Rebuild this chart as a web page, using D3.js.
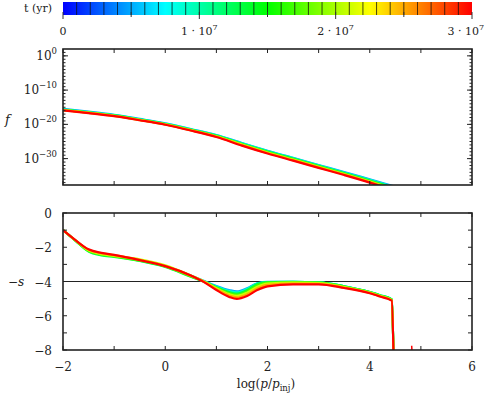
<!DOCTYPE html>
<html>
<head>
<meta charset="utf-8">
<script src="https://cdn.jsdelivr.net/npm/d3@7"></script>
<style>
  body { margin: 0; background: #fff; }
  svg text { fill: #222; }
</style>
</head>
<body>
<svg id="chart" width="490" height="397"></svg>
<script>
// snapshots (yr)
var times = [5e6, 9e6, 13e6, 17e6, 21e6, 25e6, 3e7];

// top panel : log10 f on a common grid of log(p/pinj)
var xTop = [-2, -1.5, -1, -0.5, 0, 0.5, 1, 1.5, 2, 2.5, 3, 3.5, 4, 4.5];
var logF_5e6  = [-15.5, -16.3, -17.2, -18.4, -19.7, -21.35, -23.1, -25.45, -27.7, -29.75, -31.85, -33.9, -36.05, -38.2];
var logF_9e6  = [-15.6, -16.4, -17.3, -18.5, -19.8, -21.45, -23.2, -25.55, -27.8, -29.85, -31.95, -34.05, -36.2, -38.4];
var logF_13e6 = [-15.7, -16.5, -17.4, -18.6, -19.9, -21.55, -23.3, -25.7, -27.95, -30.0, -32.1, -34.2, -36.4, -38.6];
var logF_17e6 = [-15.75, -16.55, -17.45, -18.65, -19.95, -21.6, -23.4, -25.8, -28.05, -30.15, -32.25, -34.35, -36.55, -38.8];
var logF_21e6 = [-15.8, -16.6, -17.5, -18.7, -20.0, -21.7, -23.5, -25.9, -28.2, -30.3, -32.4, -34.5, -36.7, -39.0];
var logF_25e6 = [-15.85, -16.65, -17.55, -18.75, -20.05, -21.75, -23.6, -26.05, -28.35, -30.45, -32.55, -34.65, -36.85, -39.2];
var logF_30e6 = [-15.9, -16.7, -17.6, -18.8, -20.1, -21.8, -23.7, -26.2, -28.5, -30.6, -32.7, -34.8, -37.0, -39.4];

// bottom panel : -s
var xBot = [-2, -1.75, -1.5, -1.25, -1, -0.5, 0, 0.5, 0.75, 1, 1.25, 1.4, 1.6, 1.8, 2, 2.5, 3, 3.5, 4, 4.2, 4.43, 4.47];
var negS_5e6  = [-1.0, -1.62, -2.2, -2.4, -2.5, -2.76, -3.1, -3.65, -3.96, -4.26, -4.5, -4.58, -4.4, -4.1, -4.02, -4.02, -4.05, -4.28, -4.62, -4.8, -5.05, -9];
var negS_9e6  = [-1.0, -1.63, -2.22, -2.43, -2.52, -2.78, -3.12, -3.68, -3.98, -4.3, -4.56, -4.64, -4.44, -4.12, -4.03, -4.02, -4.05, -4.28, -4.62, -4.8, -5.05, -9];
var negS_13e6 = [-1.0, -1.64, -2.25, -2.47, -2.56, -2.8, -3.15, -3.72, -4.0, -4.33, -4.62, -4.7, -4.5, -4.15, -4.04, -4.02, -4.05, -4.28, -4.62, -4.8, -5.05, -9];
var negS_17e6 = [-1.0, -1.63, -2.22, -2.43, -2.53, -2.78, -3.12, -3.7, -3.99, -4.36, -4.68, -4.77, -4.57, -4.22, -4.07, -4.04, -4.06, -4.3, -4.63, -4.82, -5.06, -9];
var negS_21e6 = [-1.0, -1.62, -2.18, -2.4, -2.5, -2.7, -3.05, -3.65, -3.98, -4.4, -4.74, -4.84, -4.65, -4.3, -4.12, -4.07, -4.09, -4.32, -4.65, -4.84, -5.08, -9];
var negS_25e6 = [-1.0, -1.6, -2.14, -2.35, -2.46, -2.74, -3.1, -3.66, -4.0, -4.45, -4.82, -4.93, -4.75, -4.4, -4.2, -4.12, -4.13, -4.35, -4.67, -4.86, -5.1, -9];
var negS_30e6 = [-1.0, -1.6, -2.12, -2.33, -2.45, -2.75, -3.1, -3.65, -4.02, -4.5, -4.9, -5.02, -4.85, -4.5, -4.28, -4.17, -4.17, -4.38, -4.69, -4.88, -5.12, -9];
// petit bout isolé de la dernière courbe
var tailX = [4.82, 4.83];
var tailS = [-7.75, -8.3];

// ticks
var xTicks = [-2, -1, 0, 1, 2, 3, 4, 5, 6];
var xLabels = [-2, 0, 2, 4, 6];
var fMajorExp = [0, -10, -20, -30];
var sTicks = [0, -1, -2, -3, -4, -5, -6, -7, -8];
var sLabels = [0, -2, -4, -6, -8];
var cbMajor = [0, 1e7, 2e7, 3e7];
var cbMinor = [5e6, 1.5e7, 2.5e7];

var logF = [logF_5e6, logF_9e6, logF_13e6, logF_17e6, logF_21e6, logF_25e6, logF_30e6];
var negS = [negS_5e6, negS_9e6, negS_13e6, negS_17e6, negS_21e6, negS_25e6, negS_30e6];

var svg = d3.select("#chart");
var left = 63, right = 472;
var tMax = 3e7;
var serif = "'DejaVu Serif'";

// échelle de couleur : hsv bleu -> rouge
var color = function(t) { return d3.hsl(240 * (1 - t / tMax), 1, 0.5).toString(); };

var x = d3.scaleLinear().domain([-2, 6]).range([left, right]);
var yF = d3.scaleLog().domain([Math.pow(10, -37.7), 100]).range([185, 49]);
var yS = d3.scaleLinear().domain([-8, 0]).range([350, 213]);
var tScale = d3.scaleLinear().domain([0, tMax]).range([left, right]);

function minus(v) { return String(v).replace("-", "\u2212"); }

// ---------- barre de couleur ----------
var grad = svg.append("defs").append("linearGradient").attr("id", "cb");
d3.range(0, 1.0001, 0.05).forEach(function(p) {
    grad.append("stop").attr("offset", p).attr("stop-color", color(p * tMax));
});
svg.append("rect").attr("x", left).attr("y", 2).attr("width", right - left).attr("height", 13)
    .attr("fill", "url(#cb)");
svg.append("g").selectAll("line").data(d3.range(1e6, tMax, 1e6)).enter().append("line")
    .attr("x1", d => tScale(d)).attr("x2", d => tScale(d))
    .attr("y1", 2).attr("y2", 15)
    .attr("stroke", "#111").attr("stroke-width", 0.9).attr("opacity", 0.85);
svg.append("g").selectAll("line").data(cbMajor).enter().append("line")
    .attr("x1", d => tScale(d)).attr("x2", d => tScale(d))
    .attr("y1", 12).attr("y2", 19).attr("stroke", "#333");
svg.append("g").selectAll("line").data(cbMinor).enter().append("line")
    .attr("x1", d => tScale(d)).attr("x2", d => tScale(d))
    .attr("y1", 12).attr("y2", 17).attr("stroke", "#333");
var cbl = svg.append("g").selectAll("text").data(cbMajor).enter().append("text")
    .attr("x", d => tScale(d)).attr("y", 35)
    .attr("text-anchor", d => d === tMax ? "end" : "middle")
    .attr("dx", d => d === tMax ? 12 : 0)
    .style("font-size", "11px");
cbl.each(function(d) {
    var t = d3.select(this);
    if (d === 0) { t.text("0"); return; }
    t.append("tspan").text((d / 1e7) + " \u00b7 10");
    t.append("tspan").attr("dy", -5).style("font-size", "8px").text("7");
});
svg.append("text").attr("x", 52).attr("y", 12).attr("text-anchor", "end")
    .style("font-size", "11px").text("t (yr)");

// ---------- cadres et graduations ----------
function frame(y0, y1) {
    svg.append("rect").attr("x", left).attr("y", y0).attr("width", right - left).attr("height", y1 - y0)
        .attr("fill", "none").attr("stroke", "#222").attr("stroke-width", 1.6);
    svg.append("g").selectAll("line").data(xTicks).enter().append("line")
        .attr("x1", d => x(d)).attr("x2", d => x(d)).attr("y1", y1).attr("y2", y1 - 4)
        .attr("stroke", "#222");
    svg.append("g").selectAll("line").data(xTicks).enter().append("line")
        .attr("x1", d => x(d)).attr("x2", d => x(d)).attr("y1", y0).attr("y2", y0 + 4)
        .attr("stroke", "#222");
}
function yTicks(scale, vals, len) {
    var g = svg.append("g");
    g.selectAll(".l").data(vals).enter().append("line")
        .attr("x1", left).attr("x2", left + len).attr("y1", d => scale(d)).attr("y2", d => scale(d))
        .attr("stroke", "#222");
    g.selectAll(".r").data(vals).enter().append("line")
        .attr("x1", right).attr("x2", right - len).attr("y1", d => scale(d)).attr("y2", d => scale(d))
        .attr("stroke", "#222");
}

// panneau du haut
svg.append("clipPath").attr("id", "clipTop").append("rect")
    .attr("x", left).attr("y", 49).attr("width", right - left).attr("height", 136);
var gTop = svg.append("g").attr("clip-path", "url(#clipTop)");
var lineF = d3.line()
    .x((d, i) => x(xTop[i]))
    .y(d => yF(Math.pow(10, d)))
    .curve(d3.curveMonotoneX);
gTop.selectAll("path").data(logF).enter().append("path")
    .attr("d", lineF)
    .attr("fill", "none")
    .attr("stroke", (d, i) => color(times[i]))
    .attr("stroke-width", 2.2);

frame(49, 185);
yTicks(yF, d3.range(1, 38).map(e => Math.pow(10, -e)).concat([1, 10]), 2.5);
yTicks(yF, fMajorExp.map(e => Math.pow(10, e)), 5);
var fl = svg.append("g").selectAll("text").data(fMajorExp).enter().append("text")
    .attr("x", 57).attr("y", d => yF(Math.pow(10, d)) + 4)
    .attr("text-anchor", "end").style("font-size", "12px");
fl.append("tspan").text("10");
fl.append("tspan").attr("dy", -6).style("font-size", "8.5px").text(d => minus(d));
svg.append("text").attr("x", 5).attr("y", 124).style("font-size", "13px")
    .style("font-style", "italic").text("f");

// panneau du bas
svg.append("clipPath").attr("id", "clipBot").append("rect")
    .attr("x", left).attr("y", 213).attr("width", right - left).attr("height", 137);
svg.append("line").attr("x1", left).attr("x2", right).attr("y1", yS(-4)).attr("y2", yS(-4))
    .attr("stroke", "#222").attr("stroke-width", 1);
var gBot = svg.append("g").attr("clip-path", "url(#clipBot)");
var lineS = d3.line()
    .x((d, i) => x(xBot[i]))
    .y(d => yS(d))
    .curve(d3.curveMonotoneX);
gBot.selectAll("path.s").data(negS).enter().append("path")
    .attr("class", "s")
    .attr("d", lineS)
    .attr("fill", "none")
    .attr("stroke", (d, i) => color(times[i]))
    .attr("stroke-width", 2.2);
gBot.append("path")
    .attr("d", d3.line().x((d, i) => x(tailX[i])).y(d => yS(d))(tailS))
    .attr("fill", "none").attr("stroke", color(tMax)).attr("stroke-width", 1.5);

frame(213, 350);
yTicks(yS, sTicks, 4);
svg.append("g").selectAll("text").data(sLabels).enter().append("text")
    .attr("x", 52).attr("y", d => yS(d) + 5)
    .attr("text-anchor", "end").style("font-size", "12px")
    .text(d => minus(d));
svg.append("g").selectAll("text").data(xLabels).enter().append("text")
    .attr("x", d => x(d)).attr("y", 371)
    .attr("text-anchor", "middle").style("font-size", "12px")
    .text(d => minus(d));
var sl = svg.append("text").attr("x", 8).attr("y", 286).style("font-size", "12px");
sl.append("tspan").text("\u2212");
sl.append("tspan").style("font-style", "italic").text("s");

var xl = svg.append("text").attr("x", 266).attr("y", 388).attr("text-anchor", "middle").style("font-size", "12px");
xl.append("tspan").text("log(");
xl.append("tspan").style("font-style", "italic").text("p");
xl.append("tspan").text("/");
xl.append("tspan").style("font-style", "italic").text("p");
xl.append("tspan").attr("dy", 3).style("font-size", "8.5px").text("inj");
xl.append("tspan").attr("dy", -3).text(")");

svg.selectAll("text").style("font-family", serif);
</script>
</body>
</html>
